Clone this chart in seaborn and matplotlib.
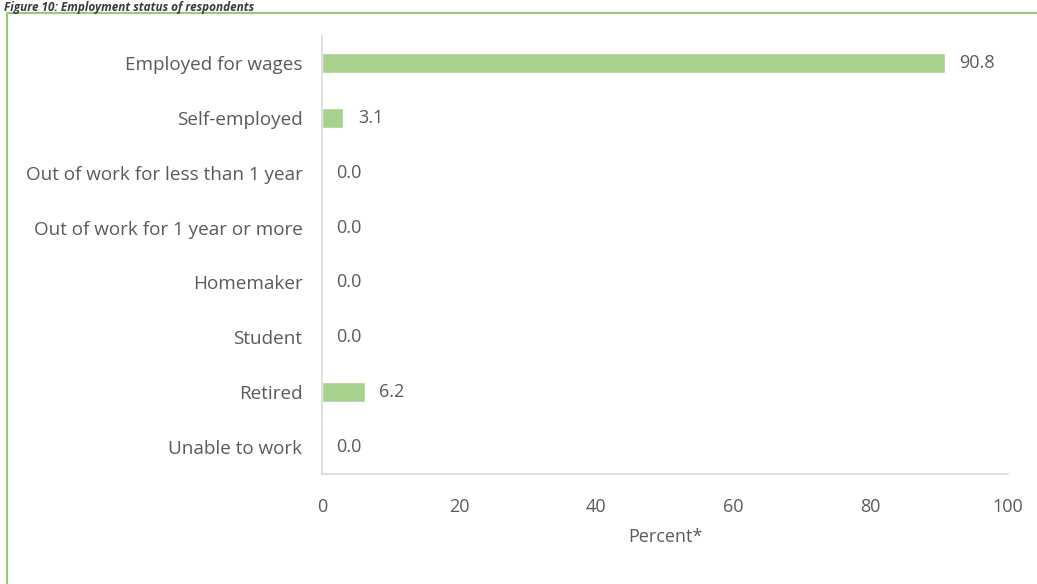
import matplotlib
matplotlib.use("Agg")
import matplotlib.pyplot as plt
from matplotlib.patches import Rectangle
import seaborn as sns
import pandas as pd

categories = [
    "Employed for wages",
    "Self-employed",
    "Out of work for less than 1 year",
    "Out of work for 1 year or more",
    "Homemaker",
    "Student",
    "Retired",
    "Unable to work",
]
percent = [90.8, 3.1, 0.0, 0.0, 0.0, 0.0, 6.2, 0.0]
x_ticks = [0, 20, 40, 60, 80, 100]

df = pd.DataFrame({"category": categories, "percent": percent})

sns.set_theme(style="white")
plt.rcParams["font.family"] = ["Open Sans", "DejaVu Sans"]

text_color = "#5a5a5a"
axis_color = "#d9d9d9"
bar_color = "#a9d18e"
fs = 13

fig = plt.figure(figsize=(10.37, 5.84), dpi=100)
ax = fig.add_axes([0.3105, 0.188, 0.6615, 0.751])

sns.barplot(data=df, x="percent", y="category", order=categories,
            color=bar_color, width=0.37, saturation=1, ax=ax)

for i, v in enumerate(percent):
    ax.annotate(f"{v:.1f}", xy=(v, i), xytext=(10.5, 0), textcoords="offset points",
                ha="left", va="center", fontsize=fs, color=text_color)

ax.set_xlim(0, 100)
ax.set_ylim(len(categories) - 0.5, -0.5)
ax.set_xticks(x_ticks)
ax.set_xticklabels([str(t) for t in x_ticks])
ax.set_xlabel("Percent*", fontsize=fs, color=text_color, labelpad=9)
ax.set_ylabel("")

for side in ["top", "right"]:
    ax.spines[side].set_visible(False)
for side in ["left", "bottom"]:
    ax.spines[side].set_color(axis_color)
    ax.spines[side].set_linewidth(1.2)

ax.tick_params(axis="x", direction="inout", length=10, width=1.2, color=axis_color,
               labelsize=fs, labelcolor=text_color, pad=12)
ax.tick_params(axis="y", length=0, labelsize=13.6, labelcolor=text_color, pad=14)

# Frame around the figure
fig.patches.append(Rectangle((0.0068, -0.05), 1.2, 1.027, transform=fig.transFigure,
                             fill=False, edgecolor="#9cc97f", linewidth=1.6, zorder=0))

# Figure caption above the frame
fig.text(0.004, 0.998, "Figure 10: Employment status of respondents", ha="left", va="top",
         fontsize=8.5, fontstyle="italic", fontweight="bold", color="#3a3a3a")

fig.savefig("out.png", dpi=100)
